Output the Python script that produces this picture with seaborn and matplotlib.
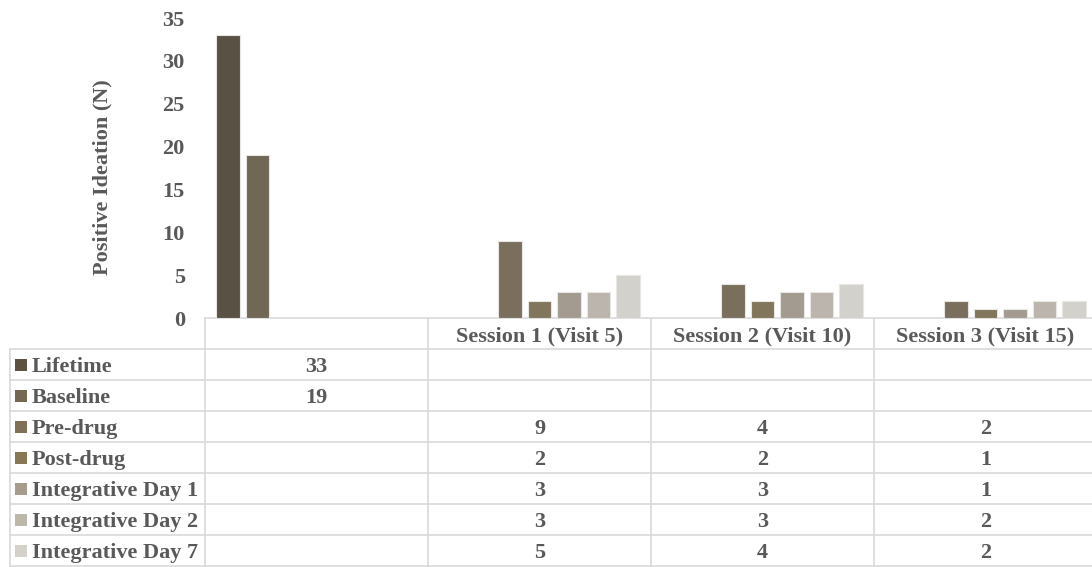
import matplotlib
matplotlib.use("Agg")
import matplotlib.pyplot as plt
from matplotlib.patches import Rectangle
import seaborn as sns
import pandas as pd
import numpy as np

# data
sessions = ["", "Session 1 (Visit 5)", "Session 2 (Visit 10)", "Session 3 (Visit 15)"]
series = ["Lifetime", "Baseline", "Pre-drug", "Post-drug",
          "Integrative Day 1", "Integrative Day 2", "Integrative Day 7"]
lifetime = [33, None, None, None]
baseline = [19, None, None, None]
pre_drug = [None, 9, 4, 2]
post_drug = [None, 2, 2, 1]
integ_day1 = [None, 3, 3, 1]
integ_day2 = [None, 3, 3, 2]
integ_day7 = [None, 5, 4, 2]
colors = ["#5d5240", "#756852", "#7f7058", "#877755", "#a69c8d", "#bdb6ab", "#d4d1cb"]

values = [lifetime, baseline, pre_drug, post_drug, integ_day1, integ_day2, integ_day7]
rows = []
for name, vals in zip(series, values):
    for s, v in zip(sessions, vals):
        if v is not None:
            rows.append({"session": s, "series": name, "n": v})
df = pd.DataFrame(rows)

sns.set_style("white")
plt.rcParams['font.family'] = ['Liberation Serif', 'DejaVu Serif']
plt.rcParams['font.weight'] = 'bold'
txt_color = "#595959"
line_color = "#d9d9d9"
fs = 16

W, H = 1092, 567
fig = plt.figure(figsize=(W / 100, H / 100), dpi=100)

# layout in pixels
left = 205
cat_w = 223
base_y = 318
top_y = 18
row_h = 31

ax = fig.add_axes([left / W, (H - base_y) / H, 4 * cat_w / W, (base_y - top_y) / H])
sns.barplot(data=df, x="session", y="n", hue="series", order=sessions, hue_order=series,
            palette=colors, width=0.926, gap=0.19, errorbar=None, ax=ax,
            edgecolor="#e8e6e2", linewidth=0.8, legend=False)
ax.set_ylim(0, 35)
ax.set_xlim(-0.5, 3.5)
ax.set_yticks(np.arange(0, 36, 5))
ax.set_yticklabels([str(t) for t in range(0, 36, 5)], color=txt_color, fontsize=fs, fontweight='bold')
ax.tick_params(axis='y', length=0, pad=14.5)
ax.set_xticks([])
ax.set_xlabel("")
ax.set_ylabel("Positive Ideation (N)", color=txt_color, fontsize=fs, fontweight='bold')
ax.yaxis.set_label_coords(-93 / (4 * cat_w), 0.47)
for sp in ax.spines.values():
    sp.set_visible(False)
ax.patch.set_alpha(0)

# data table under the chart
tab = fig.add_axes([0, 0, 1, 1], zorder=-1)
tab.set_xlim(0, W)
tab.set_ylim(H, 0)
tab.axis("off")

right = left + 4 * cat_w
n_rows = len(series)
table_bottom = base_y + row_h + n_rows * row_h
# header row
tab.plot([left, right], [base_y, base_y], color=line_color, lw=1.2)
for i in range(5):
    x = left + i * cat_w
    tab.plot([x, x], [base_y, min(table_bottom, H)], color=line_color, lw=1.2)
tab.plot([10, 10], [base_y + row_h, H], color=line_color, lw=1.2)
for r in range(n_rows + 1):
    y = base_y + row_h * (r + 1)
    tab.plot([10, right], [y, y], color=line_color, lw=1.2)

for i, s in enumerate(sessions):
    cx = left + (i + 0.5) * cat_w
    tab.text(cx, base_y + row_h / 2, s, ha='center', va='center_baseline', color=txt_color,
             fontsize=fs, fontweight='bold')

for r, (name, vals) in enumerate(zip(series, values)):
    cy = base_y + row_h * (r + 1) + row_h / 2
    tab.add_patch(Rectangle((15, cy - 6), 12, 12, color=colors[r], lw=0))
    tab.text(32, cy, name, ha='left', va='center_baseline', color=txt_color, fontsize=fs,
             fontweight='bold')
    for i, v in enumerate(vals):
        if v is not None:
            cx = left + (i + 0.5) * cat_w
            tab.text(cx, cy, str(v), ha='center', va='center_baseline', color=txt_color,
                     fontsize=fs, fontweight='bold')

fig.savefig("out.png", dpi=100)
plt.close()
